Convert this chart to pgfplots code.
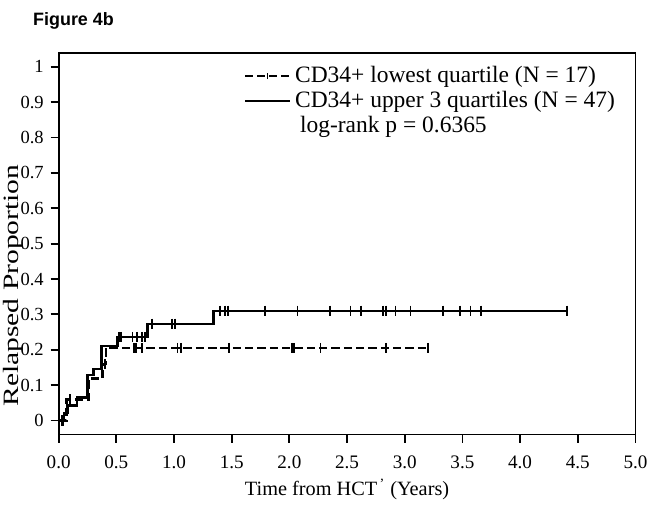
\documentclass[border=0pt]{standalone}
\usepackage{fontspec}
\setmainfont{Liberation Serif}
\newfontfamily\arialfont{Liberation Sans}
\usepackage{graphicx}
\usepackage{pgfplots}
\pgfplotsset{compat=1.18}

\begin{document}
\begin{tikzpicture}
\begin{axis}[
  scale only axis, width=290pt, height=192pt,
  xmin=0, xmax=5, ymin=-0.04, ymax=1.04,
  xtick={0,0.5,1,1.5,2,2.5,3,3.5,4,4.5,5},
  xticklabels={0.0,0.5,1.0,1.5,2.0,2.5,3.0,3.5,4.0,4.5,5.0},
  ytick={0,0.1,0.2,0.3,0.4,0.5,0.6,0.7,0.8,0.9,1},
  yticklabels={0,0.1,0.2,0.3,0.4,0.5,0.6,0.7,0.8,0.9,1},
  xtick pos=bottom, ytick pos=left,
  tick align=outside, major tick length=4pt,
  axis line style={line width=0.9pt},
  every tick/.style={line width=0.9pt, black},
  xticklabel style={font=\fontsize{9.6}{11}\selectfont, yshift=-3pt},
  yticklabel style={font=\fontsize{9.3}{11}\selectfont},
  /pgf/number format/assume math mode=true,
  xlabel={Time from HCT\textsuperscript{\,'} (Years)},
  xlabel style={font=\fontsize{10.2}{12}\selectfont, at={(axis description cs:0.5,-0.143)}, anchor=center},
  ylabel={\scalebox{1.35}[1]{Relapsed Proportion}},
  ylabel style={font=\fontsize{11}{13}\selectfont, inner sep=0pt, at={(axis description cs:-0.078,0.39)}, anchor=center},
  legend style={at={(axis description cs:0.321,0.975)}, anchor=north west, draw=none, fill=none,
    font=\fontsize{11.8}{13}\selectfont, row sep=-1.2pt, inner sep=0pt},
  legend cell align=left,
  clip=false,
]
% lowest quartile (dashed)
\addplot[const plot, line width=1.3pt, dash pattern=on 4.2pt off 2pt, forget plot] coordinates {
 (0,0) (0.07,0.059) (0.26,0.118) (0.38,0.16) (0.41,0.205) (3.20,0.205)
};
% upper 3 quartiles (solid)
\addplot[const plot, line width=1.3pt, forget plot] coordinates {
 (0,0) (0.045,0.021) (0.075,0.043) (0.16,0.064) (0.25,0.128) (0.30,0.145) (0.37,0.21) (0.51,0.236) (0.77,0.273) (1.34,0.31) (4.41,0.31)
};
% censor marks dashed
\addplot[only marks, mark=|, mark size=2.6pt, mark options={line width=0.9pt}, forget plot] coordinates {
 (0.035,0) (0.095,0.059) (0.40,0.16)
 (0.655,0.205) (0.67,0.205) (0.72,0.205) (1.03,0.205) (1.06,0.205) (1.48,0.205)
 (2.02,0.205) (2.04,0.205) (2.27,0.205) (2.84,0.205) (3.20,0.205)
};
% censor marks solid
\addplot[only marks, mark=|, mark size=2.6pt, mark options={line width=0.9pt}, forget plot] coordinates {
 (0.03,0)
 (0.52,0.236) (0.54,0.236) (0.64,0.236) (0.68,0.236) (0.72,0.236) (0.745,0.236)
 (0.81,0.273) (0.98,0.273) (1.01,0.273)
 (1.40,0.31) (1.44,0.31) (1.47,0.31) (1.79,0.31) (2.07,0.31) (2.35,0.31) (2.53,0.31)
 (2.62,0.31) (2.81,0.31) (2.84,0.31) (2.92,0.31) (3.05,0.31) (3.33,0.31) (3.48,0.31)
 (3.57,0.31) (3.66,0.31) (4.41,0.31)
};
\addlegendimage{legend image code/.code={\draw[line width=0.9pt, dash pattern=on 4pt off 2pt] (0pt,0pt)--(22.5pt,0pt); \draw[line width=0.6pt] (11.25pt,-1.5pt)--(11.25pt,1.5pt);}}
\addlegendentry{CD34+ lowest quartile (N = 17)}
\addlegendimage{legend image code/.code={\draw[line width=1.1pt] (0pt,0pt)--(22.5pt,0pt);}}
\addlegendentry{CD34+ upper 3 quartiles (N = 47)}
\addlegendimage{empty legend}
\addlegendentry{\hspace{2.5pt}log-rank p = 0.6365}
\end{axis}
\node[anchor=west, font=\arialfont\bfseries\fontsize{9}{10}\selectfont, inner sep=0pt]
  at ([xshift=-13pt, yshift=16pt]current axis.north west) {Figure 4b};
\path ([xshift=-29.5pt,yshift=-34.5pt]current axis.south west) rectangle ([xshift=7.5pt,yshift=26.5pt]current axis.north east);
\end{tikzpicture}
\end{document}
